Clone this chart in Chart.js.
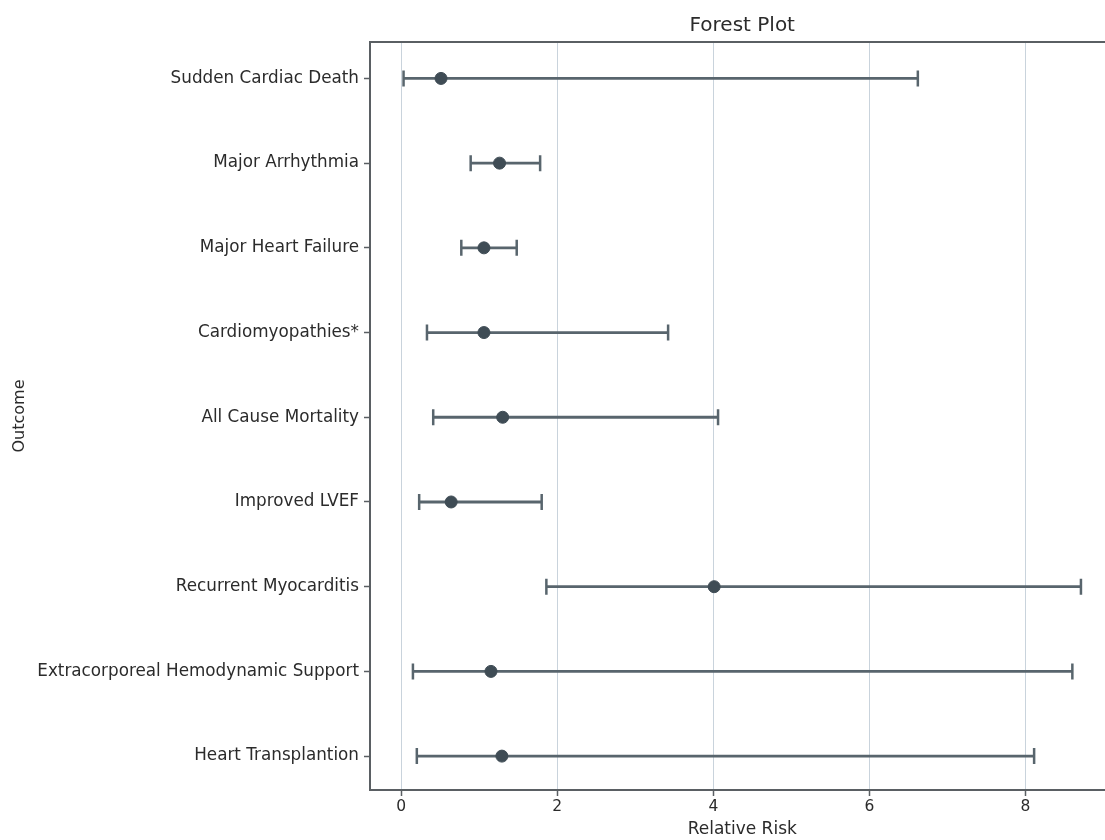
<!DOCTYPE html>
<html>
<head>
<meta charset="utf-8">
<title>Forest Plot</title>
<script src="https://cdn.jsdelivr.net/npm/chart.js@4/dist/chart.umd.min.js"></script>
<style>
  html, body { margin: 0; padding: 0; background: #fff; overflow: hidden; }
  #wrap { width: 1125px; height: 840px; position: relative; }
</style>
</head>
<body>
<div id="wrap"><canvas id="forest"></canvas></div>
<script>
// Outcomes, top to bottom
const outcomes = [
  'Sudden Cardiac Death',
  'Major Arrhythmia',
  'Major Heart Failure',
  'Cardiomyopathies*',
  'All Cause Mortality',
  'Improved LVEF',
  'Recurrent Myocarditis',
  'Extracorporeal Hemodynamic Support',
  'Heart Transplantion',
];
// Relative risk estimates and 95% CI
const estimates = [0.51, 1.26, 1.06, 1.06, 1.30, 0.64, 4.01, 1.15, 1.29];
const lowerCI   = [0.03, 0.89, 0.77, 0.33, 0.41, 0.23, 1.86, 0.15, 0.20];
const upperCI   = [6.62, 1.78, 1.48, 3.42, 4.06, 1.80, 8.71, 8.60, 8.11];
const xTicks = [0, 2, 4, 6, 8];

const LINE = '#58656d';
const DOT  = '#3f4c55';
const TEXT = '#2b2b2b';
const AXIS = '#5a5f63';
const FONT = "'DejaVu Sans', sans-serif";

// ── CI lines, one dataset per outcome ──────────────────────────
const datasets = outcomes.map((name, i) => ({
  label: name,
  data: [{ x: lowerCI[i], y: i }, { x: upperCI[i], y: i }],
  showLine: true,
  borderColor: LINE,
  borderWidth: 2.8,
  pointStyle: 'line',
  pointRotation: 90,
  pointRadius: 8,
  pointBorderWidth: 2.5,
  pointBorderColor: LINE,
  pointHoverRadius: 8,
}));

// ── point estimates on top ─────────────────────────────────────
datasets.push({
  label: 'Relative Risk',
  data: estimates.map((v, i) => ({ x: v, y: i })),
  pointStyle: 'circle',
  pointRadius: 6,
  pointHoverRadius: 7,
  backgroundColor: DOT,
  borderColor: DOT,
  order: -1,
});

// frame round the plot area (matplotlib style)
const frame = {
  id: 'frame',
  afterDatasetsDraw(chart) {
    const { ctx, chartArea: a } = chart;
    ctx.save();
    ctx.strokeStyle = AXIS;
    ctx.lineWidth = 2;
    ctx.strokeRect(a.left, a.top, a.right - a.left, a.bottom - a.top);
    ctx.restore();
  },
};

new Chart(document.getElementById('forest'), {
  type: 'scatter',
  data: { datasets },
  plugins: [frame],
  options: {
    responsive: true,
    maintainAspectRatio: false,
    animation: false,
    layout: { padding: { left: 0, right: 8, top: 0, bottom: 0 } },
    plugins: {
      legend: { display: false },
      title: {
        display: true,
        fullSize: false,
        text: 'Forest Plot',
        color: TEXT,
        font: { family: FONT, size: 20, weight: 'normal' },
        padding: { top: 14, bottom: 4 },
      },
      tooltip: {
        callbacks: {
          label: ctx => `${outcomes[ctx.parsed.y]}: ${ctx.parsed.x.toFixed(2)}`,
        },
      },
    },
    scales: {
      x: {
        type: 'linear',
        min: -0.4,
        max: 9.14,
        afterBuildTicks: s => { s.ticks = xTicks.map(v => ({ value: v })); },
        afterFit: s => { s.height = 50; },
        ticks: { color: TEXT, font: { family: FONT, size: 15.5 }, padding: 2 },
        grid: {
          color: '#c9d3dc',
          lineWidth: 1,
          tickColor: AXIS,
          tickLength: 6,
          tickWidth: 1.5,
        },
        border: { display: false },
        title: {
          display: true,
          text: 'Relative Risk',
          color: TEXT,
          font: { family: FONT, size: 17 },
          padding: { top: 0, bottom: 0 },
        },
      },
      y: {
        type: 'linear',
        reverse: true,
        min: -0.43,
        max: 8.4,
        afterBuildTicks: s => { s.ticks = outcomes.map((_, i) => ({ value: i })); },
        afterFit: s => { s.width = 370; },
        ticks: {
          color: TEXT,
          font: { family: FONT, size: 16.8 },
          padding: 5,
          callback: v => outcomes[v] ?? '',
        },
        grid: {
          drawOnChartArea: false,
          tickColor: AXIS,
          tickLength: 6,
          tickWidth: 1.5,
        },
        border: { display: false },
        title: {
          display: true,
          text: 'Outcome',
          color: TEXT,
          font: { family: FONT, size: 16 },
          padding: { top: 10, bottom: 0 },
        },
      },
    },
  },
});
</script>
</body>
</html>
